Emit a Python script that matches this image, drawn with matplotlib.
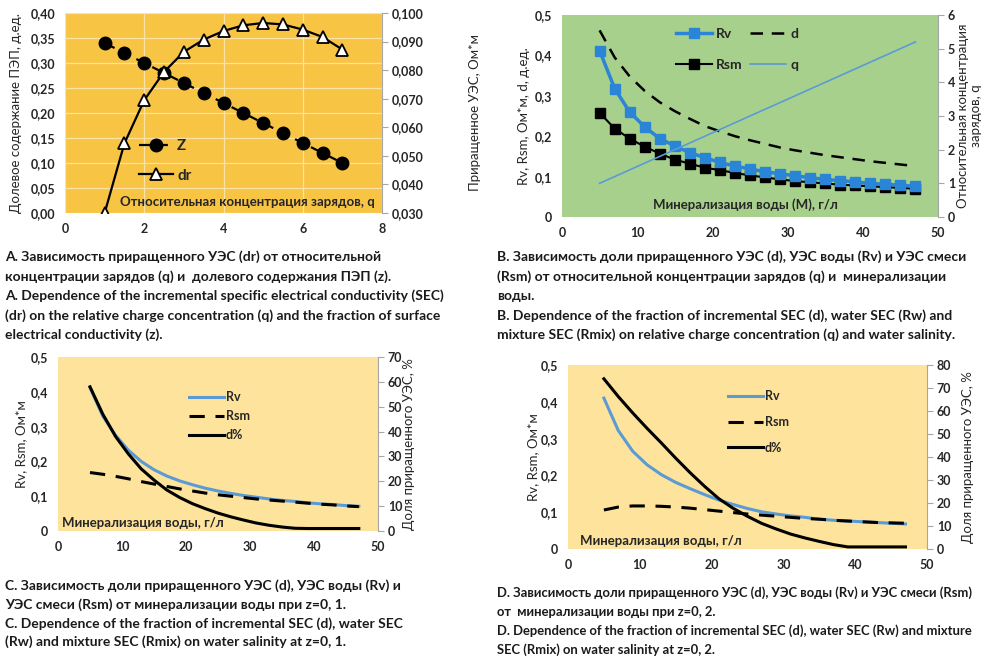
import matplotlib
matplotlib.use("Agg")
import matplotlib.pyplot as plt
from matplotlib.ticker import FuncFormatter, MultipleLocator

plt.rcParams['font.family'] = ['Lato', 'DejaVu Sans']
plt.rcParams['font.weight'] = 'bold'

# ---- A: приращенное УЭС от q ----
q_a = [1.0, 1.5, 2.0, 2.5, 3.0, 3.5, 4.0, 4.5, 5.0, 5.5, 6.0, 6.5, 7.0]
z_a = [0.34, 0.32, 0.30, 0.28, 0.26, 0.24, 0.22, 0.20, 0.18, 0.16, 0.14, 0.12, 0.10]
dr_a = [0.030, 0.0544, 0.0695, 0.0794, 0.0864, 0.0907, 0.0937, 0.0957, 0.0965,
        0.0960, 0.0942, 0.0916, 0.0872]

# ---- B: минерализация, Rv, Rsm, d, q ----
m = [5, 7, 9, 11, 13, 15, 17, 19, 21, 23, 25, 27, 29, 31, 33, 35, 37, 39, 41, 43, 45, 47]
rv_b = [0.412, 0.318, 0.260, 0.223, 0.194, 0.176, 0.159, 0.147, 0.135, 0.126, 0.119,
        0.112, 0.107, 0.102, 0.0975, 0.093, 0.090, 0.087, 0.083, 0.081, 0.0785, 0.076]
rsm_b = [0.258, 0.219, 0.194, 0.174, 0.157, 0.142, 0.132, 0.122, 0.116, 0.109, 0.103,
         0.098, 0.093, 0.089, 0.086, 0.083, 0.080, 0.078, 0.076, 0.074, 0.072, 0.070]
d_b = [0.462, 0.395, 0.348, 0.312, 0.284, 0.262, 0.243, 0.225, 0.212, 0.200, 0.190,
       0.181, 0.172, 0.165, 0.159, 0.153, 0.148, 0.143, 0.138, 0.134, 0.130, 0.126]
q_b = [1.0, 1.2, 1.4, 1.6, 1.8, 2.0, 2.2, 2.4, 2.6, 2.8, 3.0, 3.2, 3.4, 3.6, 3.8, 4.0,
       4.2, 4.4, 4.6, 4.8, 5.0, 5.2]

# ---- C: z = 0,1 ----
rv_c = [0.412, 0.330, 0.275, 0.232, 0.200, 0.176, 0.158, 0.144, 0.133, 0.123, 0.115,
        0.108, 0.102, 0.097, 0.092, 0.088, 0.085, 0.081, 0.078, 0.076, 0.073, 0.071]
rsm_c = [0.168, 0.163, 0.157, 0.150, 0.142, 0.135, 0.128, 0.121, 0.115, 0.109, 0.104,
         0.100, 0.096, 0.092, 0.089, 0.086, 0.083, 0.080, 0.077, 0.075, 0.072, 0.070]
dp_c = [58, 47, 38, 31, 25, 20.5, 16.5, 13.5, 11, 9, 7.2, 5.7, 4.4, 3.2, 2.3, 1.6,
        1.1, 1, 1, 1, 1, 1]

# ---- D: z = 0,2 ----
rv_d = [0.410, 0.322, 0.266, 0.229, 0.202, 0.181, 0.164, 0.148, 0.133, 0.121, 0.110,
        0.101, 0.095, 0.090, 0.086, 0.081, 0.078, 0.076, 0.074, 0.072, 0.070, 0.068]
rsm_d = [0.106, 0.114, 0.117, 0.117, 0.116, 0.114, 0.111, 0.107, 0.103, 0.099, 0.095,
         0.092, 0.089, 0.086, 0.083, 0.081, 0.078, 0.076, 0.074, 0.072, 0.071, 0.070]
dp_d = [74, 66.3, 59.2, 52.5, 46.1, 39.5, 33.2, 27.3, 21.9, 17.7, 14.2, 11.1, 8.7,
        6.5, 4.8, 3.3, 1.9, 0.9, 0.9, 0.9, 0.9, 0.9]

W, H = 989, 662
fig = plt.figure(figsize=(W / 100, H / 100), dpi=100)
fig.patch.set_facecolor('white')

TXT = '#262626'
yellow_a = '#F8C443'
yellow_cd = '#FDE39C'
green_b = '#A8D08D'
blue_dark = '#2A85D6'
blue_light = '#5B9BD5'
TICK = 9


def box(x0, y0, x1, y1):
    # пиксели -> доли фигуры
    return [x0 / W, 1 - y1 / H, (x1 - x0) / W, (y1 - y0) / H]


def comma(fmt):
    return FuncFormatter(lambda v, p: (fmt % v).replace('.', ','))


def style(ax, ax2, bg):
    ax.set_facecolor(bg)
    for a in (ax, ax2):
        for s in a.spines.values():
            s.set_visible(False)
    ax2.spines['right'].set_visible(True)
    ax2.spines['right'].set_color('#a6a6a6')
    ax.tick_params(axis='both', length=0, labelsize=TICK, colors=TXT, pad=7)
    ax2.tick_params(axis='y', length=4, width=0.8, color='#a6a6a6', labelsize=TICK,
                    colors=TXT, pad=3)
    ax2.tick_params(axis='x', length=0)


# ---------- A ----------
ax = fig.add_axes(box(65, 13, 382, 213))
ax2 = ax.twinx()
style(ax, ax2, yellow_a)
ax.set_xlim(0, 8)
ax.set_ylim(0, 0.40)
ax2.set_ylim(0.030, 0.100)
ax.xaxis.set_major_locator(MultipleLocator(2))
ax.yaxis.set_major_locator(MultipleLocator(0.05))
ax2.yaxis.set_major_locator(MultipleLocator(0.01))
ax.yaxis.set_major_formatter(comma('%.2f'))
ax2.yaxis.set_major_formatter(comma('%.3f'))
ax.xaxis.set_major_formatter(FuncFormatter(lambda v, p: '%d' % v))
ax.grid(True, color='#FBE3A8', lw=0.9)
ax.set_axisbelow(True)
l1, = ax.plot(q_a, z_a, color='black', ls=(0, (5, 3)), lw=1.6, marker='o', ms=9,
              mfc='black', mec='black', label='Z', zorder=3)
l2, = ax2.plot(q_a, dr_a, color='black', lw=1.6, marker='^', ms=9, mfc='white',
               mec='black', mew=1.3, label='dr', zorder=3)
ax.set_zorder(ax2.get_zorder() - 1)
ax2.patch.set_visible(False)
leg = ax2.legend([l1, l2], ['Z', 'dr'], loc='center left', bbox_to_anchor=(0.19, 0.26),
                 frameon=False, fontsize=11, labelspacing=1.0, handlelength=2.2,
                 handletextpad=0.3)
for t in leg.get_texts():
    t.set_color(TXT)
ax.text(0.173, 0.055, 'Относительная концентрация зарядов, q', transform=ax.transAxes,
        fontsize=9.5, color=TXT, va='center', ha='left')
ax.set_ylabel('Долевое содержание ПЭП, д.ед.', fontsize=9.5, color=TXT)
ax.yaxis.set_label_coords(-0.135, 0.5)
ax2.set_ylabel('Приращенное УЭС, Ом*м', fontsize=9.5, color=TXT)
ax2.yaxis.set_label_coords(1.275, 0.5)

# ---------- B ----------
ax = fig.add_axes(box(562, 15, 938, 217))
ax2 = ax.twinx()
style(ax, ax2, green_b)
ax.set_xlim(0, 50)
ax.set_ylim(0, 0.5)
ax2.set_ylim(0, 6)
ax.xaxis.set_major_locator(MultipleLocator(10))
ax.yaxis.set_major_locator(MultipleLocator(0.1))
ax2.yaxis.set_major_locator(MultipleLocator(1))
ax.yaxis.set_major_formatter(FuncFormatter(lambda v, p: '0' if v == 0 else ('%.1f' % v).replace('.', ',')))
ax2.yaxis.set_major_formatter(FuncFormatter(lambda v, p: '%d' % v))
ax.xaxis.set_major_formatter(FuncFormatter(lambda v, p: '%d' % v))
h_rv, = ax.plot(m, rv_b, color=blue_dark, lw=2.5, marker='s', ms=7.5, mfc=blue_dark,
                mec=blue_dark, zorder=4)
h_d, = ax.plot(m, d_b, color='black', lw=1.8, ls=(0, (5, 3.5)), zorder=3)
h_rsm, = ax.plot(m, rsm_b, color='black', lw=1.5, marker='s', ms=6.5, mfc='black',
                 mec='black', zorder=3)
h_q, = ax2.plot(m, q_b, color=blue_light, lw=1.2)
leg = ax.legend([h_rv, h_rsm, h_d, h_q], ['Rv', 'Rsm', 'd', 'q'], ncol=2,
                loc='center left', bbox_to_anchor=(0.27, 0.83), frameon=False,
                fontsize=10, labelspacing=1.4, handlelength=2.6, handletextpad=0.3,
                columnspacing=0.5)
for t in leg.get_texts():
    t.set_color(TXT)
ax.text(0.242, 0.06, 'Минерализация воды (М), г/л', transform=ax.transAxes,
        fontsize=9.5, color=TXT, va='center', ha='left')
ax.set_ylabel('Rv, Rsm, Ом*м, d, д.ед.', fontsize=9.5, color=TXT)
ax.yaxis.set_label_coords(-0.085, 0.5)
ax2.set_ylabel('Относительная концентрация\nзарядов, q', fontsize=9.5, color=TXT,
               linespacing=1.1)
ax2.yaxis.set_label_coords(1.051, 0.5)


# ---------- C, D ----------
def panel_cd(rect, rv, rsm, dp, rtop, leg_anchor, lspace, lab_xy, lcoords):
    ax = fig.add_axes(box(*rect))
    ax2 = ax.twinx()
    style(ax, ax2, yellow_cd)
    ax.set_xlim(0, 50)
    ax.set_ylim(0, 0.5)
    ax2.set_ylim(0, rtop)
    ax.xaxis.set_major_locator(MultipleLocator(10))
    ax.yaxis.set_major_locator(MultipleLocator(0.1))
    ax2.yaxis.set_major_locator(MultipleLocator(10))
    ax.yaxis.set_major_formatter(FuncFormatter(lambda v, p: '0' if v == 0 else ('%.1f' % v).replace('.', ',')))
    ax2.yaxis.set_major_formatter(FuncFormatter(lambda v, p: '%d' % v))
    ax.xaxis.set_major_formatter(FuncFormatter(lambda v, p: '%d' % v))
    a, = ax.plot(m, rv, color=blue_light, lw=2.2, zorder=3)
    b, = ax.plot(m, rsm, color='black', lw=2.2, ls=(0, (5, 3.5)), zorder=3)
    c, = ax2.plot(m, dp, color='black', lw=2.2, zorder=3)
    ax2.patch.set_visible(False)
    leg = ax.legend([a, b, c], ['Rv', 'Rsm', 'd%'], loc='center left',
                    bbox_to_anchor=leg_anchor, frameon=False, fontsize=9,
                    labelspacing=lspace, handlelength=2.8, handletextpad=0.15)
    for t in leg.get_texts():
        t.set_color(TXT)
    ax.text(lab_xy[0], lab_xy[1], 'Минерализация воды, г/л', transform=ax.transAxes,
            fontsize=9.5, color=TXT, va='center', ha='left')
    ax.set_ylabel('Rv, Rsm, Ом*м', fontsize=9.5, color=TXT)
    ax.yaxis.set_label_coords(lcoords[0], 0.5)
    ax2.set_ylabel('Доля приращенного УЭС, %', fontsize=9.5, color=TXT)
    ax2.yaxis.set_label_coords(lcoords[1], 0.5)


panel_cd((58, 357, 378, 531), rv_c, rsm_c, dp_c, 70, (0.375, 0.66), 0.55,
         (0.0125, 0.046), (-0.097, 1.078))
panel_cd((568, 365, 927, 549), rv_d, rsm_d, dp_d, 80, (0.415, 0.69), 1.1,
         (0.033, 0.043), (-0.08, 1.097))

# ---------- подписи ----------
captions = [
    (5, 257, 19.4, 10, [
        'A. Зависимость приращенного УЭС (dr) от относительной',
        'концентрации зарядов (q) и  долевого содержания ПЭП (z).',
        'A. Dependence of the incremental specific electrical conductivity (SEC)',
        '(dr) on the relative charge concentration (q) and the fraction of surface',
        'electrical conductivity (z).']),
    (497, 257, 19.4, 10, [
        'B. Зависимость доли приращенного УЭС (d), УЭС воды (Rv) и УЭС смеси',
        '(Rsm) от относительной концентрации зарядов (q) и  минерализации',
        'воды.',
        'B. Dependence of the fraction of incremental SEC (d), water SEC (Rw) and',
        'mixture SEC (Rmix) on relative charge concentration (q) and water salinity.']),
    (5, 586, 18.7, 10, [
        'C. Зависимость доли приращенного УЭС (d), УЭС воды (Rv) и',
        'УЭС смеси (Rsm) от минерализации воды при z=0, 1.',
        'C. Dependence of the fraction of incremental SEC (d), water SEC',
        '(Rw) and mixture SEC (Rmix) on water salinity at z=0, 1.']),
    (497, 593, 19.0, 9.4, [
        'D. Зависимость доли приращенного УЭС (d), УЭС воды (Rv) и УЭС смеси (Rsm)',
        'от  минерализации воды при z=0, 2.',
        'D. Dependence of the fraction of incremental SEC (d), water SEC (Rw) and mixture',
        'SEC (Rmix) on water salinity at z=0, 2.']),
]
for x0, y0, step, fs, lines in captions:
    for i, line in enumerate(lines):
        fig.text(x0 / W, 1 - (y0 + i * step) / H, line, fontsize=fs, color='#1a1a1a',
                 ha='left', va='center')

fig.savefig('out.png', dpi=100)
